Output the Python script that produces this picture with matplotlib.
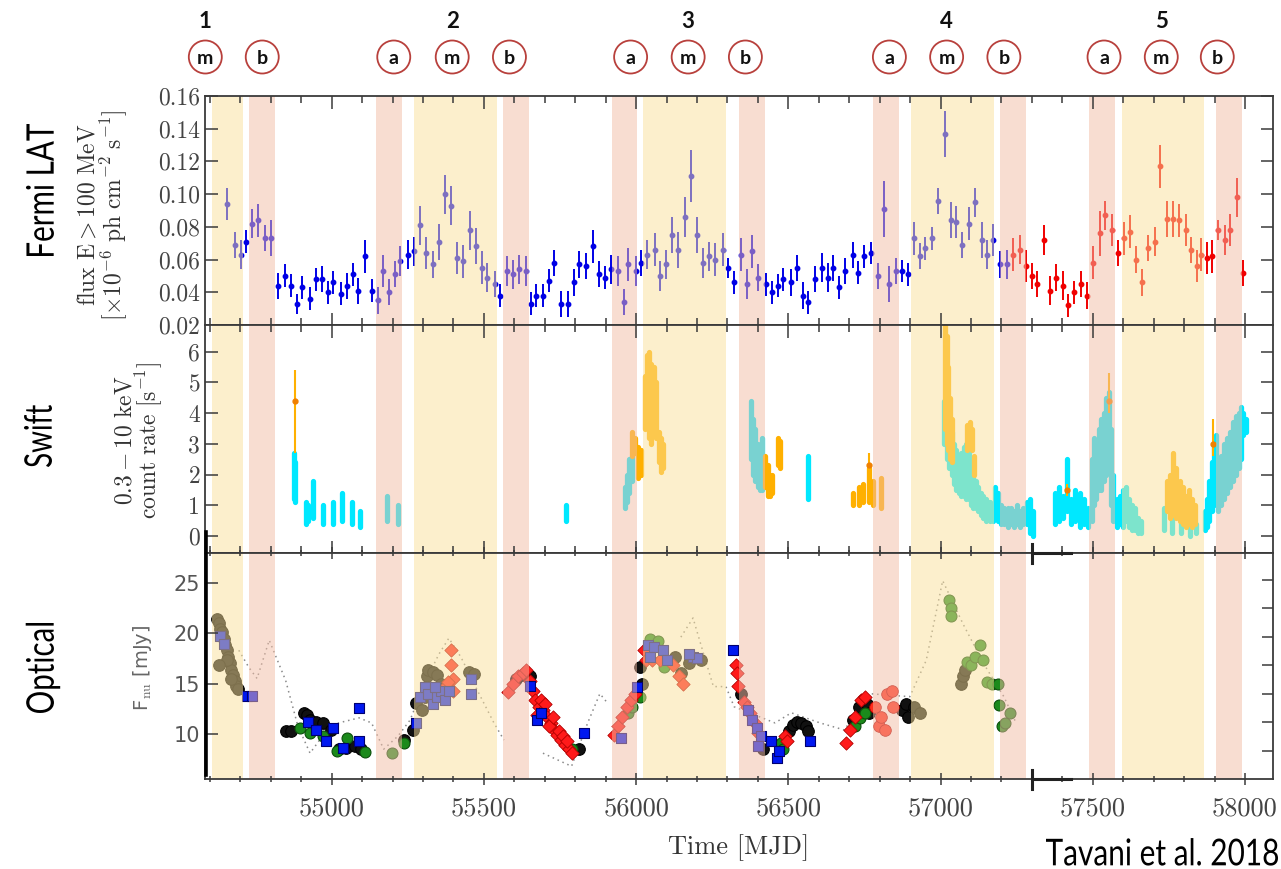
import numpy as np
import matplotlib
matplotlib.use("Agg")
import matplotlib.pyplot as plt
from matplotlib.patches import Ellipse, PathPatch
from matplotlib.transforms import blended_transform_factory, Affine2D
from matplotlib.lines import Line2D
from matplotlib.textpath import TextPath
from matplotlib.font_manager import FontProperties

plt.rcParams['mathtext.fontset'] = 'cm'
plt.rcParams['axes.formatter.use_mathtext'] = True

# ---------------- activity periods (MJD) ----------------
yellow_spans = [(54606, 54708), (55270, 55542), (56024, 56294), (56903, 57174), (57595, 57866)]
pink_spans = [(54729, 54814), (55146, 55231), (55564, 55648), (55920, 56002), (56338, 56423),
              (56778, 56864), (57196, 57280), (57489, 57572), (57906, 57990)]

period_numbers = ['1', '2', '3', '4', '5']
period_number_mjd = [54585, 55396, 56171, 57020, 57725]
phase_letters = ['m', 'b', 'a', 'm', 'b', 'a', 'm', 'b', 'a', 'm', 'b', 'a', 'm', 'b']
phase_mjd = [54585, 54772, 55204, 55396, 55584, 55982, 56171, 56359, 56832, 57020, 57208,
             57537, 57725, 57909]

# ---------------- Fermi LAT (E > 100 MeV) ----------------
fermi_blue_mjd = [54657, 54683, 54701, 54720, 54739, 54759, 54781, 54802, 54823, 54846, 54866, 54885,
                  54904, 54928, 54947, 54968, 54987, 55006, 55030, 55049, 55069, 55088, 55108, 55131,
                  55152, 55168, 55190, 55207, 55226, 55250, 55270, 55291, 55310, 55332, 55352, 55372,
                  55391, 55412, 55432, 55454, 55473, 55493, 55511, 55536, 55554, 55576, 55595, 55616,
                  55637, 55656, 55672, 55694, 55713, 55731, 55753, 55777, 55796, 55814, 55837, 55857,
                  55879, 55898, 55918, 55940, 55959, 55975, 55999, 56017, 56037, 56061, 56080, 56099,
                  56118, 56136, 56161, 56179, 56201, 56220, 56241, 56260, 56284, 56303, 56322, 56346,
                  56365, 56381, 56402, 56427, 56445, 56467, 56483, 56510, 56529, 56547, 56566, 56588,
                  56609, 56631, 56647, 56668, 56687, 56711, 56730, 56749, 56770, 56795, 56813, 56832,
                  56854, 56872, 56894, 56913, 56934, 56950, 56972, 56993, 57015, 57034, 57052, 57071,
                  57095, 57114, 57136, 57152, 57173, 57195, 57219]
fermi_blue_flux = [0.094, 0.069, 0.063, 0.071, 0.082, 0.084, 0.073, 0.073, 0.044, 0.050, 0.044, 0.033,
                   0.043, 0.036, 0.048, 0.048, 0.040, 0.046, 0.039, 0.044, 0.051, 0.041, 0.062, 0.041,
                   0.035, 0.053, 0.040, 0.051, 0.059, 0.063, 0.065, 0.081, 0.064, 0.057, 0.071, 0.100,
                   0.093, 0.061, 0.059, 0.078, 0.068, 0.055, 0.049, 0.045, 0.038, 0.053, 0.051, 0.054,
                   0.053, 0.033, 0.038, 0.038, 0.047, 0.058, 0.033, 0.033, 0.046, 0.057, 0.056, 0.068,
                   0.051, 0.049, 0.054, 0.053, 0.034, 0.057, 0.053, 0.058, 0.063, 0.066, 0.050, 0.057,
                   0.075, 0.066, 0.086, 0.111, 0.075, 0.058, 0.062, 0.060, 0.066, 0.055, 0.046, 0.063,
                   0.045, 0.065, 0.049, 0.045, 0.040, 0.044, 0.048, 0.046, 0.055, 0.038, 0.034, 0.048,
                   0.055, 0.049, 0.055, 0.043, 0.053, 0.063, 0.052, 0.062, 0.064, 0.050, 0.091, 0.045,
                   0.053, 0.053, 0.051, 0.073, 0.062, 0.067, 0.073, 0.096, 0.137, 0.084, 0.083, 0.069,
                   0.082, 0.095, 0.072, 0.063, 0.072, 0.057, 0.057]
fermi_blue_err = [0.010, 0.008, 0.009, 0.007, 0.009, 0.010, 0.008, 0.011, 0.008, 0.007, 0.007, 0.006,
                  0.007, 0.007, 0.007, 0.008, 0.007, 0.007, 0.007, 0.008, 0.007, 0.008, 0.010, 0.007,
                  0.008, 0.010, 0.008, 0.008, 0.009, 0.009, 0.009, 0.012, 0.010, 0.008, 0.011, 0.012,
                  0.012, 0.010, 0.010, 0.012, 0.011, 0.010, 0.009, 0.008, 0.007, 0.009, 0.009, 0.009,
                  0.009, 0.007, 0.007, 0.007, 0.007, 0.008, 0.008, 0.008, 0.008, 0.008, 0.008, 0.010,
                  0.008, 0.007, 0.009, 0.009, 0.008, 0.010, 0.009, 0.008, 0.009, 0.010, 0.009, 0.009,
                  0.011, 0.011, 0.012, 0.016, 0.011, 0.009, 0.009, 0.010, 0.010, 0.006, 0.007, 0.010,
                  0.009, 0.010, 0.008, 0.007, 0.007, 0.007, 0.007, 0.008, 0.008, 0.008, 0.007, 0.008,
                  0.009, 0.009, 0.008, 0.007, 0.008, 0.008, 0.007, 0.007, 0.007, 0.008, 0.017, 0.011,
                  0.008, 0.007, 0.007, 0.010, 0.008, 0.007, 0.007, 0.008, 0.014, 0.011, 0.010, 0.008,
                  0.010, 0.009, 0.011, 0.009, 0.010, 0.008, 0.009]
fermi_red_mjd = [57238, 57262, 57281, 57302, 57318, 57340, 57359, 57380, 57402, 57420, 57439, 57461,
                 57482, 57501, 57523, 57541, 57563, 57582, 57603, 57622, 57643, 57662, 57681, 57703,
                 57721, 57743, 57762, 57783, 57805, 57823, 57842, 57856, 57874, 57893, 57912, 57933,
                 57952, 57974, 57995]
fermi_red_flux = [0.063, 0.066, 0.056, 0.050, 0.045, 0.072, 0.041, 0.049, 0.044, 0.032, 0.040, 0.045,
                  0.038, 0.058, 0.076, 0.087, 0.078, 0.064, 0.073, 0.077, 0.060, 0.046, 0.067, 0.071,
                  0.117, 0.085, 0.085, 0.084, 0.078, 0.066, 0.056, 0.063, 0.061, 0.062, 0.078, 0.072,
                  0.078, 0.098, 0.052]
fermi_red_err = [0.010, 0.009, 0.010, 0.008, 0.008, 0.009, 0.009, 0.008, 0.009, 0.007, 0.007, 0.008,
                 0.008, 0.010, 0.014, 0.009, 0.010, 0.008, 0.010, 0.010, 0.008, 0.008, 0.008, 0.009,
                 0.013, 0.011, 0.011, 0.010, 0.010, 0.008, 0.010, 0.010, 0.010, 0.010, 0.006, 0.009,
                 0.010, 0.012, 0.008]

# ---------------- Swift XRT 0.3-10 keV (observation clusters: MJD, low, high) ----------------
xrt_cyan_mjd = [54876, 54881, 54916, 54922, 54940, 54970, 55003, 55034, 55066, 55093, 55181, 55218,
                55770, 55962, 55970, 55978, 55986,
                56376, 56384, 56392, 56400, 56408, 56415, 56566,
                57012, 57020, 57028, 57036, 57044, 57052, 57060, 57068, 57076, 57084, 57092, 57100,
                57108, 57116, 57124, 57132, 57140, 57148, 57156, 57164, 57172, 57180, 57188,
                57200, 57210, 57220, 57230, 57240, 57250, 57260, 57270, 57285, 57295, 57303,
                57376, 57389, 57403, 57416, 57430, 57443, 57457, 57470, 57483,
                57498, 57505, 57512, 57520, 57528, 57536, 57544, 57552, 57560, 57568, 57578, 57588,
                57598, 57608, 57618, 57628, 57640, 57650, 57660, 57735, 57760, 57790, 57820, 57840,
                57868, 57875, 57882, 57890, 57897, 57904, 57910, 57920, 57930, 57940, 57950, 57960,
                57970, 57980, 57988, 57995, 58003]
xrt_cyan_lo = [1.2, 1.1, 0.4, 0.5, 0.6, 0.4, 0.4, 0.5, 0.4, 0.3, 0.5, 0.4,
               0.5, 0.9, 1.1, 1.4, 1.8,
               2.5, 2.0, 1.8, 1.6, 1.5, 1.5, 1.2,
               3.0, 2.5, 2.2, 2.0, 1.7, 1.5, 1.4, 1.3, 1.3, 1.2, 1.2, 1.0,
               0.9, 0.9, 0.8, 0.7, 0.6, 0.5, 0.6, 0.5, 0.5, 0.6, 0.5,
               0.4, 0.4, 0.3, 0.4, 0.3, 0.4, 0.3, 0.4, 0.4, 0.1, 0.0,
               0.4, 0.5, 0.6, 0.8, 0.4, 0.5, 0.3, 0.4, 0.3,
               0.5, 1.0, 1.2, 1.5, 1.5, 1.8, 2.0, 2.2, 1.0, 0.5, 0.3, 0.4,
               0.3, 0.5, 0.3, 0.2, 0.2, 0.1, 0.1, 0.2, 0.1, 0.1, 0.0, 0.1,
               0.2, 0.3, 0.5, 0.8, 1.0, 1.2, 0.8, 1.0, 1.2, 1.4, 1.6, 1.8,
               2.0, 2.2, 2.5, 3.3, 3.4]
xrt_cyan_hi = [2.7, 2.4, 1.1, 1.0, 1.8, 1.0, 1.1, 1.4, 1.1, 0.8, 1.3, 1.0,
               1.0, 1.6, 2.0, 2.5, 2.6,
               4.4, 3.8, 3.5, 3.0, 2.8, 3.2, 2.6,
               4.4, 4.0, 3.6, 3.4, 3.0, 2.8, 2.6, 2.7, 2.9, 3.0, 2.8, 2.4,
               2.1, 1.8, 1.6, 1.4, 1.3, 1.2, 1.1, 1.1, 1.0, 1.6, 1.4,
               1.0, 0.9, 0.9, 0.9, 0.8, 1.0, 0.8, 0.9, 1.1, 1.2, 0.8,
               1.4, 1.6, 1.3, 2.5, 1.2, 1.5, 1.4, 1.2, 0.9,
               2.5, 3.2, 3.0, 3.5, 3.8, 4.0, 4.5, 4.7, 3.5, 2.0, 1.2, 1.3,
               1.5, 1.6, 1.2, 1.0, 0.9, 0.6, 0.5, 0.9, 0.6, 0.5, 0.5, 0.4,
               0.8, 1.2, 1.8, 2.4, 3.0, 3.3, 2.2, 2.6, 3.0, 3.2, 3.4, 3.7,
               3.9, 4.0, 4.2, 4.0, 3.8]

xrt_orange_mjd = [55988, 55996, 56006, 56016, 56028, 56035, 56042, 56050, 56058, 56066, 56076, 56083,
                  56090, 56425, 56432, 56440, 56447, 56465, 56472, 56711, 56731, 56745, 56765, 56778,
                  56805, 57014, 57020, 57026, 57032, 57038, 57088, 57096, 57104, 57110,
                  57745, 57755, 57765, 57775, 57785, 57795, 57805, 57815, 57825, 57835]
xrt_orange_lo = [2.6, 2.7, 1.9, 2.0, 3.5, 3.8, 3.2, 3.0, 3.5, 3.2, 2.4, 2.1,
                 2.2, 1.6, 1.3, 1.3, 1.4, 2.3, 2.2, 1.0, 1.0, 1.1, 1.1, 1.0,
                 0.9, 3.5, 3.0, 2.8, 2.5, 2.4, 2.8, 2.9, 2.8, 2.0,
                 0.8, 0.6, 0.7, 0.6, 0.5, 0.4, 0.3, 0.4, 0.3, 0.4]
xrt_orange_hi = [3.4, 3.2, 2.9, 2.8, 5.2, 5.9, 6.0, 5.6, 5.5, 5.0, 3.4, 3.2,
                 3.0, 2.6, 2.3, 2.0, 2.0, 3.2, 3.1, 1.4, 1.6, 1.7, 2.2, 1.8,
                 1.9, 6.9, 6.5, 5.5, 4.5, 3.8, 3.6, 3.7, 3.5, 2.6,
                 1.8, 2.0, 2.7, 2.2, 1.8, 1.6, 1.3, 1.5, 1.2, 1.0]

# single orange points with error bars
xrt_pt_mjd = [54878, 56765, 57416, 57553, 57896]
xrt_pt_rate = [4.4, 2.3, 1.5, 4.4, 3.0]
xrt_pt_lo = [2.7, 1.9, 1.3, 4.0, 2.6]
xrt_pt_hi = [5.4, 2.7, 1.7, 5.3, 3.8]

# ---------------- Optical (R band flux, mJy) ----------------
opt_black_mjd = [54624, 54630, 54634, 54641, 54645, 54650, 54656, 54661, 54665, 54671, 54676, 54681,
                 54685, 54692, 54655, 54668, 54630, 54849, 54865,
                 54909, 54919, 54929, 54950, 54970, 54997, 55023, 55047, 55077, 55097,
                 55238, 55267, 55278, 55298, 55305, 55312, 55318, 55332, 55345, 55359, 55452, 55466,
                 55607, 55624, 55653, 55814,
                 56020, 56013, 56127, 56147, 56174, 56214, 56346, 56416,
                 56503, 56516, 56530, 56543, 56557, 56563, 56711, 56731, 56745, 56758, 56765,
                 56872, 56886, 56893, 56913, 56933, 57067, 57074, 57081]
opt_black_flux = [21.4, 21.0, 20.4, 20.1, 19.4, 18.8, 18.3, 17.6, 17.0, 16.3, 15.8, 15.3,
                  14.8, 14.5, 17.3, 15.5, 16.8, 10.3, 10.3,
                  12.1, 11.9, 11.4, 11.2, 11.1, 10.4, 8.5, 8.6, 8.8, 8.5,
                  9.4, 10.4, 13.1, 12.4, 13.7, 15.7, 16.3, 16.1, 15.8, 15.0, 16.1, 15.9,
                  15.5, 15.8, 15.7, 8.5,
                  15.0, 16.6, 17.6, 16.0, 17.0, 17.3, 14.0, 8.5,
                  10.3, 10.9, 11.2, 11.1, 10.8, 10.3, 11.4, 12.7, 13.4, 13.0, 12.1,
                  12.4, 13.0, 11.7, 12.7, 12.1, 15.0, 15.7, 16.3]

opt_green_mjd = [54896, 54929, 54970, 55017, 55050, 55110, 55198, 55238, 55788, 55975, 55988,
                 56013, 56046, 56073, 56093, 56476, 56483, 56718, 56735, 56752,
                 57027, 57034, 57034, 57087, 57101, 57114, 57128, 57141, 57154, 57168,
                 57188, 57192, 57201, 57211, 57228]
opt_green_flux = [10.6, 10.1, 9.8, 8.3, 9.6, 8.2, 8.1, 9.1, 8.5, 12.1, 12.7,
                  13.7, 19.4, 19.2, 16.6, 9.1, 8.5, 10.8, 11.6, 12.1,
                  23.3, 22.5, 21.7, 17.1, 16.8, 17.6, 18.8, 17.3, 15.2, 15.0,
                  15.0, 12.9, 10.8, 11.1, 12.1]

opt_blue_mjd = [54634, 54648, 54722, 54739, 54923, 54949, 54983, 55003, 55037, 55090, 55090,
                55278, 55291, 55305, 55318, 55332, 55345, 55359, 55372, 55385, 55338, 55459, 55459,
                55653, 55674, 55687, 55828, 55949, 56002,
                56040, 56060, 56087, 56100, 56046, 56187, 56201, 56174,
                56319, 56369, 56382, 56396, 56409, 56402, 56443, 56463, 56469, 56570]
opt_blue_flux = [19.7, 18.9, 13.8, 13.8, 11.2, 10.4, 9.3, 10.6, 8.6, 12.6, 9.3,
                 11.1, 13.7, 14.7, 14.0, 13.0, 13.7, 14.3, 13.4, 14.3, 14.7, 15.5, 14.0,
                 14.8, 11.4, 12.1, 10.1, 9.6, 14.7,
                 18.8, 18.6, 18.3, 17.3, 17.6, 17.6, 17.5, 17.9,
                 18.3, 12.4, 11.4, 10.6, 9.8, 8.8, 9.3, 7.6, 8.3, 9.3]

opt_red_mjd = [55392, 55392, 55399, 55399, 55372, 55383,
               55580, 55597, 55613, 55629, 55640,
               55653, 55660, 55667, 55680, 55694, 55707, 55720, 55731, 55741, 55754, 55767, 55781,
               55788, 55674, 55714, 55747, 55687, 55700, 55727, 55761, 55774,
               55928, 55942, 55955, 55969, 55982, 55995,
               56026, 56033, 56053, 56080, 56120, 56140, 56154,
               56328, 56332, 56335, 56355, 56365, 56375, 56389, 56402,
               56490, 56496, 56691, 56704, 56718, 56738, 56752]
opt_red_flux = [18.3, 16.8, 15.5, 14.3, 14.7, 15.2,
                14.2, 15.0, 15.7, 16.0, 16.3,
                15.3, 14.3, 13.4, 12.7, 12.4, 11.7, 11.1, 10.4, 9.9, 9.4, 8.9, 8.5,
                8.1, 11.9, 10.8, 10.3, 13.4, 13.0, 11.7, 9.8, 9.3,
                9.9, 10.8, 11.7, 12.7, 13.4, 14.0,
                18.3, 17.3, 17.3, 17.3, 16.8, 15.7, 15.0,
                16.8, 16.0, 14.8, 13.2, 12.7, 12.1, 11.1, 10.1,
                9.8, 9.3, 9.1, 10.4, 11.7, 13.4, 13.7]

opt_redcirc_mjd = [56785, 56798, 56805, 56819, 56825, 56839, 56845]
opt_redcirc_flux = [12.7, 10.8, 11.7, 10.4, 14.0, 14.3, 12.7]

# smoothed optical trend (dotted)
trend_mjd = [54695, 54728, 54755, 54795, 54849, 54889, 54929, 54970, 55023, 55090, 55131, 55171,
             55218, 55258, 55305, 55352, 55385, 55425, 55479, 55533, 55566, np.nan,
             55694, 55788, 55841, 55881, 55908, np.nan,
             56147, 56187, 56228, 56254, 56295, 56322, 56456, 56510, 56604, 56684, 56765, 56899,
             56953, 57007, 57074, 57141, 57208, 57248]
trend_flux = [18.3, 16.6, 15.5, 19.3, 15.3, 10.8, 8.1, 9.8, 11.1, 11.6, 11.1, 8.5,
              9.8, 11.4, 15.0, 17.9, 19.5, 17.6, 14.3, 11.1, 9.4, np.nan,
              8.1, 6.8, 11.1, 14.0, 13.0, np.nan,
              19.6, 21.5, 17.3, 14.7, 14.7, 12.7, 11.1, 12.1, 11.1, 10.4, 14.0, 13.7,
              17.3, 25.2, 20.9, 17.0, 13.7, 11.1]

# ---------------- figure layout ----------------
W, H = 1281, 869
fig = plt.figure(figsize=(W / 100, H / 100), dpi=100)


def px_axes(x0, y0, x1, y1):
    return fig.add_axes([x0 / W, 1 - y1 / H, (x1 - x0) / W, (y1 - y0) / H])


ax1 = px_axes(205, 96, 1273, 325)
ax2 = px_axes(205, 325, 1273, 553)
ax3 = px_axes(205, 553, 1273, 779)

XMIN, XMAX = 54584, 58092
spine_col = '#3a3a3a'
tick_col = '#444444'

for ax in (ax1, ax2, ax3):
    ax.set_xlim(XMIN, XMAX)
    ax.set_axisbelow(False)
    for s in ax.spines.values():
        s.set_color(spine_col)
        s.set_linewidth(1.3)
    ax.set_xticks(np.arange(55000, 58001, 500))
    ax.set_xticks(np.arange(54600, 58092, 100), minor=True)
    ax.tick_params(axis='both', which='both', direction='in', top=True, right=True,
                   color=spine_col, labelcolor=tick_col, labelsize=17, width=1.1)
    ax.tick_params(which='major', length=9)
    ax.tick_params(which='minor', length=5)
    for y0, y1 in yellow_spans:
        ax.axvspan(y0, y1, facecolor='#fbe19b', alpha=0.5, lw=0, zorder=2.2)
    for p0, p1 in pink_spans:
        ax.axvspan(p0, p1, facecolor='#f3bda5', alpha=0.5, lw=0, zorder=2.2)

ax1.tick_params(labelbottom=False)
ax2.tick_params(labelbottom=False)

# ---- Fermi panel ----
ax1.set_ylim(0.02, 0.16)
ax1.set_yticks(np.arange(0.02, 0.161, 0.02))
ax1.set_yticklabels(['%.2f' % v for v in np.arange(0.02, 0.161, 0.02)], fontfamily='cmr10')
ax1.errorbar(fermi_blue_mjd, fermi_blue_flux, yerr=fermi_blue_err, fmt='o', ms=3.2,
             color='#0000e6', ecolor='#0000e6', elinewidth=1.4, capsize=0, zorder=2)
ax1.errorbar(fermi_red_mjd, fermi_red_flux, yerr=fermi_red_err, fmt='o', ms=3.2,
             color='#f00000', ecolor='#f00000', elinewidth=1.4, capsize=0, zorder=2)

# ---- Swift panel ----
ax2.set_ylim(-0.553, 6.87)
ax2.set_yticks(range(0, 7))
ax2.set_yticklabels([str(v) for v in range(0, 7)], fontfamily='cmr10')
lc = ax2.vlines(xrt_cyan_mjd, xrt_cyan_lo, xrt_cyan_hi, colors='#00e8ff', lw=3.8, zorder=2)
lc.set_capstyle('round')
lc = ax2.vlines(xrt_orange_mjd, xrt_orange_lo, xrt_orange_hi, colors='#ffb000', lw=3.8, zorder=2.05)
lc.set_capstyle('round')
ax2.vlines(xrt_pt_mjd, xrt_pt_lo, xrt_pt_hi, colors='#ffb000', lw=1.5, zorder=2.06)
ax2.plot(xrt_pt_mjd, xrt_pt_rate, 'o', ms=3.5, color='#f08000', zorder=2.07)

# ---- Optical panel ----
ax3.set_ylim(5.54, 27.94)
ax3.set_yticks([10, 15, 20, 25])
ax3.set_yticklabels(['10', '15', '20', '25'], fontfamily='DejaVu Sans', color='#555555')
ax3.tick_params(axis='y', labelsize=15, right=False)
ax3.plot(trend_mjd, trend_flux, ls=(0, (1, 2.5)), color='#8a8a8a', lw=1.1, zorder=1.5)
ax3.scatter(opt_black_mjd, opt_black_flux, s=70, marker='o', c='#111111', edgecolors='#000000',
            lw=0.8, zorder=2)
ax3.scatter(opt_green_mjd, opt_green_flux, s=62, marker='o', c='#1b8a1b', edgecolors='#0b4f0b',
            lw=0.8, zorder=2.01)
ax3.scatter(opt_red_mjd, opt_red_flux, s=46, marker='D', c='#ff1a1a', edgecolors='#b00000',
            lw=0.6, zorder=2.02)
ax3.scatter(opt_redcirc_mjd, opt_redcirc_flux, s=70, marker='o', c='#ff2a1a', edgecolors='#b00000',
            lw=0.6, zorder=2.02)
ax3.scatter(opt_blue_mjd, opt_blue_flux, s=58, marker='s', c='#0018f0', edgecolors='#000070',
            lw=0.8, zorder=2.03)
ax3.set_xticklabels(['55000', '55500', '56000', '56500', '57000', '57500', '58000'],
                    fontfamily='cmr10', color='#444444', fontsize=19)
ax3.tick_params(axis='x', which='both', direction='inout', pad=8)

# right-hand scale ticks of the optical panel
ax3r = ax3.twinx()
ax3r.set_ylim(0, 7.95)
ax3r.set_yticks(range(1, 8))
ax3r.tick_params(axis='y', direction='in', length=8, color=spine_col, labelright=False, width=1.1)
for s in ax3r.spines.values():
    s.set_visible(False)

ax3.set_xlabel('Time [MJD]', fontfamily='cmr10', fontsize=19, color='#333333', labelpad=10)


# ---- axis titles ----
def fx(x):
    return x / W


def fy(y):
    return 1 - y / H


fig.text(fx(88), fy(215), r'$\mathrm{flux\ E} > 100\ \mathrm{MeV}$', rotation=90,
         ha='center', va='center', fontsize=17, color='#333333')
fig.text(fx(114), fy(215), r'$[\times 10^{-6}\ \mathrm{ph\ cm^{-2}\ s^{-1}}]$', rotation=90,
         ha='center', va='center', fontsize=17, color='#333333')
fig.text(fx(124), fy(440), r'$0.3 - 10\ \mathrm{keV}$', rotation=90,
         ha='center', va='center', fontsize=17, color='#333333')
fig.text(fx(149), fy(440), r'$\mathrm{count\ rate\ [s^{-1}]}$', rotation=90,
         ha='center', va='center', fontsize=17, color='#333333')
fig.text(fx(142), fy(668), r'F$_{\rm nu}$ [mJy]', rotation=90, ha='center', va='center',
         fontsize=14, color='#666666', fontfamily='DejaVu Sans')

# large slide-style captions: plain sans, set tight to a given length in pixels
caption_font = FontProperties(family=['Lato', 'DejaVu Sans'], weight='normal')


def caption(s, cx, cy, length, size, rotation=0, color='#000000'):
    tp = TextPath((0, 0), s, size=size, prop=caption_font)
    bb = tp.get_extents()
    sx = length / bb.width
    cap = 0.72 * size
    tr = (Affine2D().translate(-(bb.x0 + bb.width / 2), -cap / 2).scale(sx, 1)
          .rotate_deg(rotation).translate(cx, H - cy).scale(1 / W, 1 / H))
    fig.add_artist(PathPatch(tp, transform=tr + fig.transFigure, fc=color, ec='none'))


caption('Fermi LAT', 40, 190, 132, 38, rotation=90)
caption('Swift', 38, 436, 62, 38, rotation=90)
caption('Optical', 40, 668, 90, 38, rotation=90)
caption('Tavani et al. 2018', 1162, 852, 232, 37)

# ---- period / phase markers above the top panel ----
trans = blended_transform_factory(ax1.transData, fig.transFigure)
circ_w = 33 / ((1273 - 205) / (XMAX - XMIN))
for t, lab in zip(phase_mjd, phase_letters):
    e = Ellipse((t, fy(57)), width=circ_w, height=33 / H, transform=trans, facecolor='white',
                edgecolor='#b8403c', lw=1.3, clip_on=False)
    fig.add_artist(e)
    fig.text(t, fy(58), lab, transform=trans, ha='center', va='center', fontsize=14,
             fontweight='bold', family=['Lato', 'DejaVu Sans'], color='#111111')
for t, lab in zip(period_number_mjd, period_numbers):
    fig.text(t, fy(21), lab, transform=trans, ha='center', va='center', fontsize=16,
             fontweight='bold', family=['Lato', 'DejaVu Sans'], color='#111111')

# heavy left edge of the optical panel and the joint marks near MJD 57300
fig.add_artist(Line2D([fx(206), fx(206)], [fy(532), fy(775)], color='black', lw=2.6))
for yy in (553, 779):
    fig.add_artist(Line2D([fx(1032), fx(1071)], [fy(yy), fy(yy)], color='#222222', lw=2.2))
    fig.add_artist(Line2D([fx(1032), fx(1032)], [fy(yy - 9), fy(yy + 10)], color='#222222', lw=2.2))

fig.savefig('out.png', dpi=100)
